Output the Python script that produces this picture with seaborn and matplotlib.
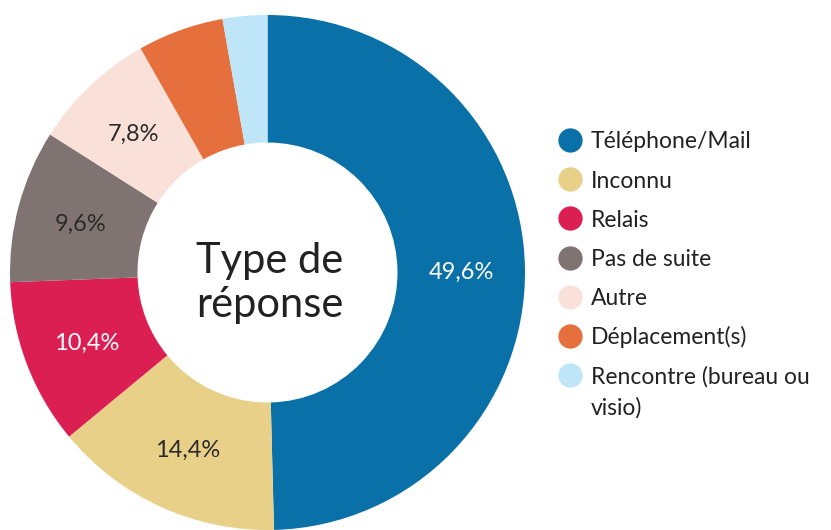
import matplotlib
matplotlib.use("Agg")
import matplotlib.pyplot as plt
import seaborn as sns
import numpy as np
from matplotlib.lines import Line2D

categories = ["Téléphone/Mail", "Inconnu", "Relais", "Pas de suite", "Autre",
              "Déplacement(s)", "Rencontre (bureau ou\nvisio)"]
values = [49.6, 14.4, 10.4, 9.6, 7.8, 5.4, 2.8]
labels_shown = ["49,6%", "14,4%", "10,4%", "9,6%", "7,8%", "", ""]
colors = ["#0a70a8", "#e9d088", "#dc1f52", "#807473", "#f9e1d9", "#e6703d", "#bee5f8"]
label_colors = ["white", "#2a2a2a", "white", "#2a2a2a", "#2a2a2a", "#2a2a2a", "#2a2a2a"]
center_title = ["Type de", "réponse"]

sns.set_theme(style="white")
plt.rcParams["font.family"] = ["Lato", "DejaVu Sans"]

W, H = 831, 530
fig = plt.figure(figsize=(W / 100, H / 100), dpi=100)
fig.patch.set_facecolor("white")

cx, cy, R = 267.5, 272.5, 257.5
ax = fig.add_axes([(cx - R) / W, (H - cy - R) / H, 2 * R / W, 2 * R / H])

inner = 130 / R
wedges, _ = ax.pie(values, colors=colors, startangle=90, counterclock=False,
                   radius=1, wedgeprops=dict(width=1 - inner, linewidth=0))
ax.set_xlim(-1, 1)
ax.set_ylim(-1, 1)
ax.set_aspect("equal")
ax.axis("off")

mid_r = (1 + inner) / 2
px = 1 / R
for w, lab, lc in zip(wedges, labels_shown, label_colors):
    if not lab:
        continue
    ang = np.deg2rad((w.theta1 + w.theta2) / 2)
    ax.text(mid_r * np.cos(ang), mid_r * np.sin(ang) - 8.5 * px, lab,
            ha="center", va="baseline", fontsize=17, color=lc)

for k, line in enumerate(center_title):
    ax.text(2.5 * px, -0.5 * px - k * 44 * px, line, ha="center", va="baseline",
            fontsize=30, color="#222222")

# legend
lx, ty, step = 570, 140, 39.2
for i, (cat, col) in enumerate(zip(categories, colors)):
    yc = ty + i * step
    fig.add_artist(Line2D([lx / W], [(H - yc) / H], marker="o", markersize=16.5,
                          color=col, linestyle="none", transform=fig.transFigure))
    for k, line in enumerate(cat.split("\n")):
        fig.text(591 / W, (H - (yc + 8.5 + k * 30.5)) / H, line, ha="left",
                 va="baseline", fontsize=16.5, color="#222222")

fig.savefig("out.png", dpi=100, facecolor="white")
